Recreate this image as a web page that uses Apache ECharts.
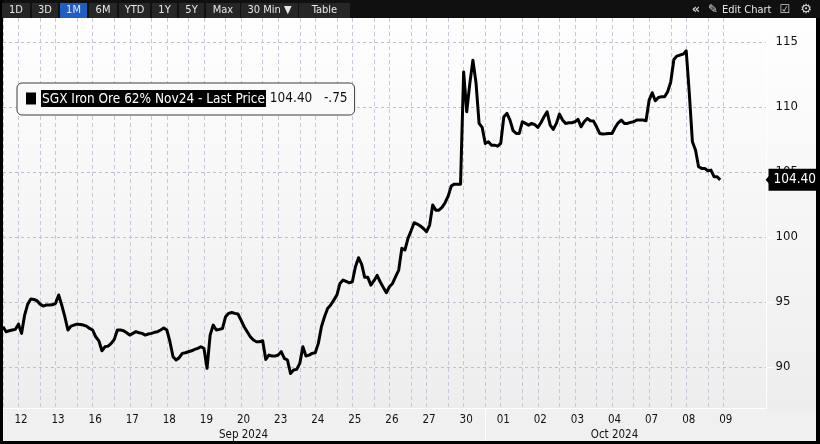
<!DOCTYPE html>
<html><head><meta charset="utf-8">
<script src="https://cdn.jsdelivr.net/npm/echarts@6.0.0/dist/echarts.min.js"></script>
<style>html,body{margin:0;padding:0;background:#000;}#c{width:820px;height:444px;}</style>
</head><body><div id="c"></div>
<script>
// ---------- data ----------
const seriesName = 'SGX Iron Ore 62% Nov24 - Last Price';
const days = ['11','12','13','16','17','18','19','20','23','24','25','26','27','30','01','02','03','04','07','08','09'];
const dayMonths = ['Sep 2024','Sep 2024','Sep 2024','Sep 2024','Sep 2024','Sep 2024','Sep 2024','Sep 2024','Sep 2024','Sep 2024','Sep 2024','Sep 2024','Sep 2024','Sep 2024',
                   'Oct 2024','Oct 2024','Oct 2024','Oct 2024','Oct 2024','Oct 2024','Oct 2024'];
const slotsPerDay = 12;          // buckets per trading day
const sessionOffset = 7;         // first slot = slot 7 of days[0]
const totalSlots = 248;
const prices = [
 93.1,92.72,92.79,92.85,92.9,93.3,92.59,94.0,94.84,95.23,
 95.2,95.1,94.84,94.69,94.77,94.77,94.79,94.9,95.54,94.77,
 93.87,92.85,93.15,93.23,93.3,93.28,93.23,93.15,92.97,92.85,
 92.33,92.02,91.25,91.56,91.61,91.82,92.13,92.85,92.85,92.79,
 92.64,92.46,92.59,92.72,92.64,92.59,92.46,92.54,92.59,92.67,
 92.72,92.85,93.0,92.85,91.95,90.79,90.54,90.72,91.05,91.1,
 91.18,91.25,91.36,91.44,91.56,91.44,89.9,92.46,93.23,92.85,
 92.9,92.97,93.87,94.13,94.2,94.13,94.08,93.61,93.1,92.72,
 92.33,92.08,91.95,91.95,92.02,90.59,90.92,90.85,90.85,90.92,
 91.18,90.67,90.54,89.51,89.77,89.82,90.28,91.56,90.85,90.92,
 91.05,91.1,91.82,93.1,93.87,94.51,94.77,95.15,95.54,96.43,
 96.69,96.59,96.48,96.56,97.72,98.41,97.92,96.9,96.9,96.3,
 96.64,97.05,96.56,96.13,95.72,96.18,96.43,96.95,97.46,99.13,
 99.0,99.9,100.48,101.1,101.0,100.85,100.66,100.41,100.92,102.46,
 102.07,102.07,102.28,102.64,103.15,103.92,104.07,104.07,104.07,112.7,
 109.64,111.82,113.6,111.87,108.74,108.43,107.2,107.33,107.07,107.07,
 106.99,107.2,109.25,109.51,109.0,108.18,107.97,107.97,108.87,108.74,
 108.61,108.74,108.64,108.43,108.79,109.25,109.64,108.61,108.28,108.74,
 109.46,109.0,108.74,108.79,108.79,108.87,109.05,108.48,108.87,109.12,
 108.95,108.92,108.48,107.97,107.92,107.94,107.97,107.97,108.43,108.79,
 109.0,108.74,108.74,108.82,108.87,109.0,109.0,109.0,108.95,110.53,
 111.1,110.48,110.74,110.79,110.79,111.18,111.94,113.66,113.92,114.0,
 114.07,114.33,111.05,107.33,106.69,105.41,105.28,105.28,105.1,105.15,
 104.64,104.64,104.4
];
const netChange = -0.75;
const yTicks = [90,95,100,105,110,115];
const yMin = 86.85, yMax = 116.85;
const rangeButtons = ['1D','3D','1M','6M','YTD','1Y','5Y','Max','30 Min ▼','Table'];
const activeRange = '1M';

// ---------- derived ----------
const FONT = "'DejaVu Sans Condensed','Liberation Sans Narrow','DejaVu Sans',sans-serif";
const lastPrice = prices[prices.length-1];
const fmtChg = v => (v<0?'-':'+') + Math.abs(v).toFixed(2).replace(/^0/,'');
const cats=[], labelSlot=[], gridSlot=[];
const lastLabelSlot = slotsPerDay*(days.length-1) - sessionOffset;
for (let g=0; g<totalSlots; g++){
  const t = g + sessionOffset;
  const d = Math.min(Math.floor(t/slotsPerDay), days.length-1);
  const k = t - d*slotsPerDay;
  cats.push(days[d] + '|' + k);
  labelSlot.push(k===0 && g<=lastLabelSlot);
  gridSlot.push((k===0 || k===sessionOffset) && g<=lastLabelSlot);
}
const sepSlots = new Set(), monthLabelAt = {}, monthSpan = {};
for (let d=1; d<days.length; d++){
  if (dayMonths[d] !== dayMonths[d-1]) sepSlots.add(slotsPerDay*(d-1));
  const g = slotsPerDay*d - sessionOffset;
  const m = dayMonths[d];
  if (!monthSpan[m]) monthSpan[m] = [g,g]; else monthSpan[m][1] = g;
}
Object.keys(monthSpan).forEach(m => { monthLabelAt[Math.round((monthSpan[m][0]+monthSpan[m][1])/2)] = m; });

// ---------- toolbar / frame graphics ----------
const btnW = [28,26,27,28,31,25,25,34,57,51];
const tb = [{type:'rect', shape:{x:0,y:0,width:820,height:18}, style:{fill:'#101010'}, z:100}];
let bx = 2;
rangeButtons.forEach((b,i)=>{
  tb.push({type:'rect', shape:{x:bx,y:3,width:btnW[i],height:15}, style:{fill: b===activeRange?'#1f5cc4':'#262626'}, z:101});
  tb.push({type:'text', x:bx+btnW[i]/2, y:10.5, style:{text:b, fill:'#e6e6e6', font:"11px 'DejaVu Sans Condensed','DejaVu Sans',sans-serif", align:'center', verticalAlign:'middle'}, z:102});
  bx += btnW[i] + (i===7||i===8 ? 1 : 2);
});
tb.push({type:'text', x:696, y:10, style:{text:'«', fill:'#cfcfcf', font:"bold 13px 'DejaVu Sans',sans-serif", align:'center', verticalAlign:'middle'}, z:102});
tb.push({type:'text', x:713, y:10, style:{text:'✎', fill:'#dcdcdc', font:"12px 'DejaVu Sans',sans-serif", align:'center', verticalAlign:'middle'}, z:102});
tb.push({type:'text', x:722, y:10.5, style:{text:'Edit Chart', fill:'#e6e6e6', font:"11px "+FONT, align:'left', verticalAlign:'middle'}, z:102});
tb.push({type:'text', x:785, y:10, style:{text:'☑', fill:'#cfcfcf', font:"12px 'DejaVu Sans',sans-serif", align:'center', verticalAlign:'middle'}, z:102});
tb.push({type:'text', x:806, y:10, style:{text:'⚙', fill:'#dcdcdc', font:"13px 'DejaVu Sans',sans-serif", align:'center', verticalAlign:'middle'}, z:102});
tb.push({type:'rect', shape:{x:0,y:0,width:3,height:444}, style:{fill:'#000'}, z:100});
tb.push({type:'rect', shape:{x:816,y:18,width:4,height:426}, style:{fill:'#000'}, z:100});
tb.push({type:'rect', shape:{x:0,y:441,width:820,height:3}, style:{fill:'#000'}, z:100});
tb.push({type:'rect', shape:{x:3,y:409,width:813,height:32}, style:{fill:'#f0f0f0'}, z:-1});

// ---------- chart ----------
const chart = echarts.init(document.getElementById('c'), null, {renderer:'canvas'});
chart.setOption({
  animation:false,
  backgroundColor:{type:'linear',x:0,y:0,x2:0,y2:1,colorStops:[{offset:0,color:'#ffffff'},{offset:1,color:'#ececec'}]},
  grid:{left:3, right:53.4, top:18, bottom:36, containLabel:false, outerBoundsMode:'none'},
  legend:{
    left:17, top:83, padding:[7,7,8,9], backgroundColor:'#fafafa', borderColor:'#3c3c3c', borderWidth:1, borderRadius:5,
    icon:'rect', itemWidth:10, itemHeight:12, itemGap:0, selectedMode:false,
    data:[{name:seriesName, itemStyle:{color:'#000'}}],
    formatter: n => `{n|${n}}{v| ${lastPrice.toFixed(2)}   ${fmtChg(netChange)}}`,
    textStyle:{fontFamily:FONT, fontSize:13.5, color:'#111',
      rich:{ n:{backgroundColor:'#000', color:'#fff', fontFamily:FONT, fontSize:13.5, padding:[2,1,1,1]},
             v:{color:'#111', fontFamily:FONT, fontSize:13.5} } }
  },
  xAxis:[{
    type:'category', data:cats, boundaryGap:false, position:'bottom',
    axisLine:{show:true, lineStyle:{color:'#ffffff', width:1}},
    axisTick:{show:false},
    axisLabel:{interval:(i)=>labelSlot[i], formatter:v=>v.split('|')[0], margin:6, color:'#111', fontSize:11.5, fontFamily:FONT, padding:[0,0,0,5]},
    splitLine:{show:true, interval:(i)=>gridSlot[i], lineStyle:{color:'#c4c9d7', type:[4,3], width:1}}
  },{
    type:'category', data:cats, boundaryGap:false, position:'bottom',
    axisLine:{show:false},
    axisTick:{show:true, interval:(i)=>sepSlots.has(i), length:33, lineStyle:{color:'#ffffff', width:1}},
    axisLabel:{interval:(i)=>monthLabelAt[i]!==undefined, formatter:(v,i)=>monthLabelAt[i]||'', margin:21, color:'#111', fontSize:11.5, fontFamily:FONT, padding:[0,0,0,5]},
    splitLine:{show:false}
  }],
  yAxis:{
    type:'value', position:'right', min:yMin, max:yMax, splitNumber:6,
    axisLine:{show:true, lineStyle:{color:'#ffffff', width:1}},
    axisTick:{show:true, length:7, customValues:yTicks, lineStyle:{color:'#ffffff'}},
    axisLabel:{customValues:yTicks, margin:9, color:'#111', fontSize:13, fontFamily:FONT},
    splitLine:{show:true, lineStyle:{color:'#b9c0d0', type:[3,3], width:1}},
    axisPointer:{show:true, type:'line', snap:false, value:lastPrice, status:'show', triggerTooltip:false,
      lineStyle:{color:'rgba(0,0,0,0)', width:0},
      label:{show:true, precision:2, backgroundColor:'#000', color:'#fff', fontFamily:FONT, fontSize:13.5, padding:[4,4,4,5], margin:5, borderRadius:0}}
  },
  series:[{
    name:seriesName, type:'line', data:prices, xAxisIndex:0, showSymbol:false, symbol:'none', silent:true, z:5,
    lineStyle:{color:'#000', width:3, join:'round'}, itemStyle:{color:'#000'}
  }],
  graphic:{elements:tb}
});
// arrow tip of the last-price tag, placed through the axis scale
const yc = chart.convertToPixel({yAxisIndex:0}, lastPrice);
const xr = chart.convertToPixel({xAxisIndex:0}, cats[cats.length-1]);
chart.setOption({graphic:{elements:tb.concat([{type:'polygon', shape:{points:[[xr-1,yc],[xr+6,yc-8],[xr+6,yc+8]]}, style:{fill:'#000'}, z:90}])}});
</script></body></html>
